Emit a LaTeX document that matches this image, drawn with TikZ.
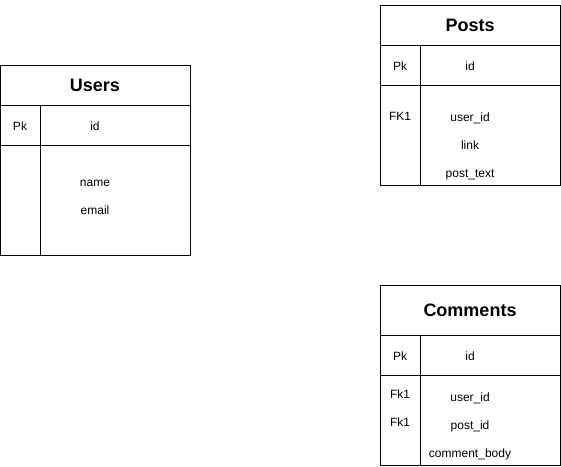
\documentclass[tikz,border=0pt]{standalone}
\usepackage{fontspec}
\setmainfont{Liberation Sans}
\usetikzlibrary{positioning}

\begin{document}
\begin{tikzpicture}[x=1pt, y=-1pt, line width=1pt,
        head/.style={anchor=base, inner sep=0pt, font=\fontsize{18}{21}\selectfont\bfseries},
        cell/.style={anchor=base, inner sep=0pt, font=\fontsize{12}{14}\selectfont}]
        \useasboundingbox (0,0) rectangle (561,466);

        % Users
        \draw (0.5,65.5) rectangle (190.5,255.5);
        \draw (0.5,105.5) -- (190.5,105.5);
        \draw (0.5,145.5) -- (190.5,145.5);
        \draw (40.5,105.5) -- (40.5,255.5);
        \node[head] (usersHead) at (95,91.5) {Users};
        \node[cell] (usersPk) at (20,130.3) {Pk};
        \node[cell] (usersId) at (95,130.3) {id};
        \node[cell] (usersName) at (95,186.3) {name};
        \node[cell] (usersEmail) at (95,214.3) {email};

        % Posts
        \draw (380.5,5.5) rectangle (560.5,185.5);
        \draw (380.5,45.5) -- (560.5,45.5);
        \draw (380.5,85.5) -- (560.5,85.5);
        \draw (420.5,45.5) -- (420.5,185.5);
        \node[head] (postsHead) at (470,31.5) {Posts};
        \node[cell] (postsPk) at (400,70.3) {Pk};
        \node[cell] (postsId) at (470,70.3) {id};
        \node[cell] (postsFk) at (400,120.3) {FK1};
        \node[cell] (postsUser) at (470,121.3) {user\_id};
        \node[cell] (postsLink) at (470,149.3) {link};
        \node[cell] (postsText) at (470,177.3) {post\_text};

        % Comments
        \draw (380.5,285.5) rectangle (560.5,465.5);
        \draw (380.5,335.5) -- (560.5,335.5);
        \draw (380.5,375.5) -- (560.5,375.5);
        \draw (420.5,335.5) -- (420.5,465.5);
        \node[head] (commentsHead) at (470,316.5) {Comments};
        \node[cell] (commentsPk) at (400,360.3) {Pk};
        \node[cell] (commentsId) at (470,360.3) {id};
        \node[cell] (commentsFkA) at (400,398.3) {Fk1};
        \node[cell] (commentsFkB) at (400,426.3) {Fk1};
        \node[cell] (commentsUser) at (470,401.3) {user\_id};
        \node[cell] (commentsPost) at (470,429.3) {post\_id};
        \node[cell] (commentsBody) at (470,457.3) {comment\_body};
    \end{tikzpicture}
\end{document}
